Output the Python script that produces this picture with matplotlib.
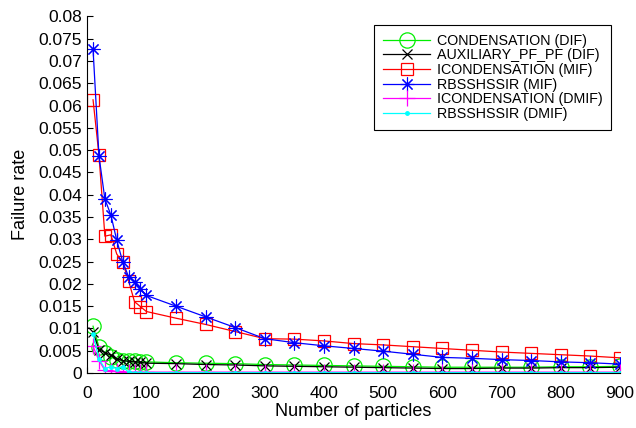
import numpy as np
import matplotlib
matplotlib.use("Agg")
import matplotlib.pyplot as plt

plt.rcParams['font.family'] = ['Liberation Sans', 'DejaVu Sans']

# number of particles
particles = [10, 20, 30, 40, 50, 60, 70, 80, 90, 100,
             150, 200, 250, 300, 350, 400, 450, 500, 550,
             600, 650, 700, 750, 800, 850, 900]

cond_dif = [0.0105, 0.0058, 0.0045, 0.0036, 0.0030, 0.0028, 0.0027, 0.0026, 0.0025, 0.0025,
            0.0023, 0.0022, 0.0021, 0.0019, 0.0018, 0.0017, 0.0016, 0.0015, 0.0014,
            0.0013, 0.0013, 0.0013, 0.0013, 0.0014, 0.0014, 0.0015]
aux_dif = [0.0092, 0.0052, 0.0046, 0.0040, 0.0032, 0.0028, 0.0026, 0.0025, 0.0024, 0.0022,
           0.0021, 0.0019, 0.0018, 0.0016, 0.0015, 0.0014, 0.0013, 0.0012, 0.0011,
           0.0010, 0.0010, 0.0011, 0.0011, 0.0012, 0.0012, 0.0013]
icond_mif = [0.0613, 0.0489, 0.0307, 0.0310, 0.0267, 0.0248, 0.0207, 0.0160, 0.0149, 0.0138,
             0.0123, 0.0109, 0.0093, 0.0077, 0.0076, 0.0072, 0.0066, 0.0063, 0.0059,
             0.0055, 0.0051, 0.0047, 0.0044, 0.0041, 0.0038, 0.0034]
rbs_mif = [0.0726, 0.0487, 0.0390, 0.0355, 0.0298, 0.0250, 0.0216, 0.0205, 0.0188, 0.0174,
           0.0150, 0.0126, 0.0102, 0.0077, 0.0068, 0.0061, 0.0055, 0.0049, 0.0042,
           0.0035, 0.0033, 0.0030, 0.0028, 0.0025, 0.0023, 0.0020]
icond_dmif = [0.0060, 0.0028, 0.0006, 0.0004, 0.0004, 0.0003, 0.0002, 0.0002, 0.0002, 0.0002,
              0.0002, 0.0002, 0.0002, 0.0002, 0.0002, 0.0002, 0.0002, 0.0002, 0.0002,
              0.0002, 0.0002, 0.0002, 0.0002, 0.0002, 0.0002, 0.0002]
rbs_dmif = [0.0088, 0.0031, 0.0010, 0.0014, 0.0010, 0.0014, 0.0002, 0.0001, 0.0001, 0.0001,
            0.0001, 0.0001, 0.0001, 0.0001, 0.0001, 0.0001, 0.0001, 0.0001, 0.0001,
            0.0001, 0.0001, 0.0001, 0.0001, 0.0001, 0.0001, 0.0001]

fig = plt.figure(figsize=(6.36, 4.28), dpi=100)
ax = fig.add_axes([0.137, 0.1285, 0.838, 0.833])

ax.plot(particles, cond_dif, color='#00ee00', lw=0.9, marker='o', ms=11, mfc='none', mew=0.9,
        label='CONDENSATION (DIF)')
ax.plot(particles, aux_dif, color='black', lw=0.9, marker='x', ms=7, mew=0.9,
        label='AUXILIARY_PF_PF (DIF)')
ax.plot(particles, icond_mif, color='red', lw=0.9, marker='s', ms=9, mfc='none', mew=0.9,
        label='ICONDENSATION (MIF)')
ax.plot(particles, rbs_mif, color='blue', lw=0.9, marker=(8, 2, 0), ms=10, mew=0.8,
        label='RBSSHSSIR (MIF)')
ax.plot(particles, icond_dmif, color='magenta', lw=0.9, marker='+', ms=11, mew=0.9,
        label='ICONDENSATION (DMIF)')
ax.plot(particles, rbs_dmif, color='cyan', lw=0.9, marker='.', ms=5,
        label='RBSSHSSIR (DMIF)')

ax.set_xlim(0, 900)
ax.set_ylim(0, 0.08)
ax.set_xticks(np.arange(0, 901, 100))
ax.set_yticks(np.arange(0, 0.0801, 0.005))
ax.set_yticklabels(['0', '0.005', '0.01', '0.015', '0.02', '0.025', '0.03', '0.035', '0.04',
                    '0.045', '0.05', '0.055', '0.06', '0.065', '0.07', '0.075', '0.08'])
ax.spines['top'].set_visible(False)
ax.spines['right'].set_visible(False)
ax.tick_params(direction='in', labelsize=12.5, length=4)
ax.tick_params(axis='x', pad=9)
ax.set_xlabel('Number of particles', fontsize=13, labelpad=2)
ax.set_ylabel('Failure rate', fontsize=13, labelpad=7)

leg = ax.legend(loc='upper right', bbox_to_anchor=(0.9607, 0.9416),
                bbox_transform=fig.transFigure, fontsize=10.3, fancybox=False,
                edgecolor='black', framealpha=1, borderaxespad=0, borderpad=0.6,
                handlelength=3.3, handletextpad=0.45, labelspacing=0.05)
leg.get_frame().set_linewidth(0.8)

fig.savefig('out.png', dpi=100)
